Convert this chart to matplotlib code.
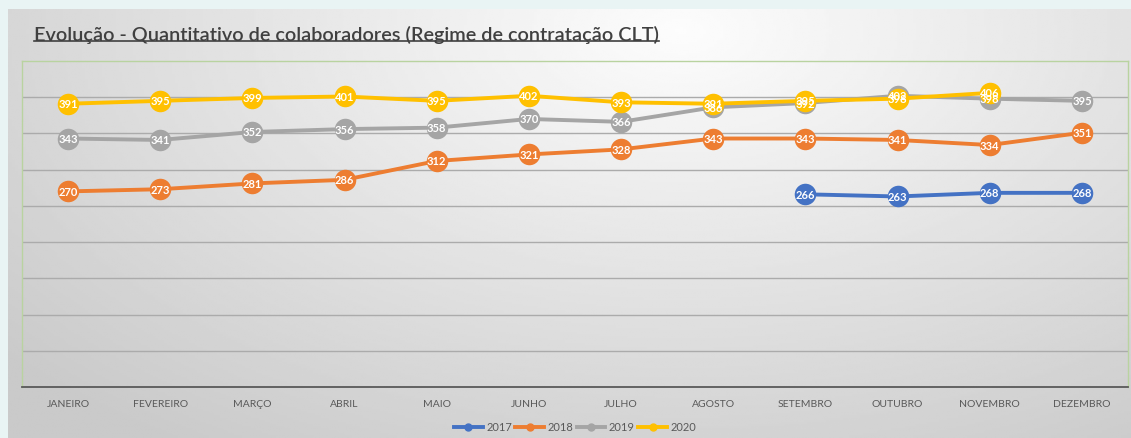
import numpy as np
import matplotlib
matplotlib.use('Agg')
from matplotlib import pyplot as plt
from matplotlib.lines import Line2D

# data
meses = ['JANEIRO', 'FEVEREIRO', 'MARÇO', 'ABRIL', 'MAIO', 'JUNHO',
         'JULHO', 'AGOSTO', 'SETEMBRO', 'OUTUBRO', 'NOVEMBRO', 'DEZEMBRO']
nan = np.nan
v2017 = [nan, nan, nan, nan, nan, nan, nan, nan, 266, 263, 268, 268]
v2018 = [270, 273, 281, 286, 312, 321, 328, 343, 343, 341, 334, 351]
v2019 = [343, 341, 352, 356, 358, 370, 366, 386, 392, 402, 398, 395]
v2020 = [391, 395, 399, 401, 395, 402, 393, 391, 395, 398, 406, nan]

series = [('2017', v2017, '#4472C4'),
          ('2018', v2018, '#ED7D31'),
          ('2019', v2019, '#A5A5A5'),
          ('2020', v2020, '#FFC000')]

plt.rcParams['font.family'] = ['Lato', 'DejaVu Sans']

W, H = 1131, 439
fig = plt.figure(figsize=(W / 100, H / 100), dpi=100)
fig.patch.set_facecolor('#e9f4f4')

# gray gradient panel behind the chart
bg = fig.add_axes([8 / W, 0, 1 - 8 / W, (H - 10) / H])
bg.set_axis_off()
yy, xx = np.mgrid[0:1:200j, 0:1:400j]
d = np.sqrt(((xx - 0.6) * 1.25) ** 2 + ((yy - 0.05) * 0.85) ** 2)
shade = np.clip(0.99 - 0.2 * d, 0.79, 1.0)
bg.imshow(shade, cmap='gray', vmin=0, vmax=1, aspect='auto',
          extent=[0, 1, 0, 1], origin='upper')
bg.set_xlim(0, 1)
bg.set_ylim(0, 1)

ax = fig.add_axes([22 / W, (H - 388) / H, (1128 - 22) / W, (388 - 62) / H])
ax.patch.set_alpha(0)
x = np.arange(len(meses))

for i, (nome, vals, cor) in enumerate(series):
    vals = np.array(vals, dtype=float)
    ax.plot(x, vals, color=cor, lw=2.8, marker='o', ms=15.5,
            markeredgewidth=0, zorder=3 + i)
    for xi, v in zip(x, vals):
        if np.isnan(v):
            continue
        ax.text(xi, v, f'{int(v)}', ha='center', va='center', color='white',
                fontsize=8, fontweight='bold', zorder=20)

ax.set_xlim(-0.5, len(meses) - 0.5)
ax.set_ylim(0, 450)
ax.set_yticks(np.arange(50, 401, 50))
ax.yaxis.grid(True, color='#ababab', lw=1.0)
ax.set_axisbelow(True)
ax.tick_params(axis='y', left=False, labelleft=False)
ax.set_xticks(x)
ax.set_xticklabels(meses, fontsize=7.5, color='#595959')
ax.tick_params(axis='x', length=0, pad=9)
for s in ['top', 'right', 'left']:
    ax.spines[s].set_color('#b9d3a0')
    ax.spines[s].set_linewidth(1.0)
ax.spines['bottom'].set_color('#595959')
ax.spines['bottom'].set_linewidth(1.3)

handles = [Line2D([0], [0], color=c, lw=2.8, marker='o', ms=5) for _, _, c in series]
fig.legend(handles, [n for n, _, _ in series], loc='center',
           bbox_to_anchor=(575 / W, (H - 428) / H), ncol=4, frameon=False,
           fontsize=8, handlelength=2.6, handletextpad=0.3, columnspacing=0.3,
           labelcolor='#595959')

# underlined title
t = fig.text(34 / W, (H - 35) / H, 'Evolução - Quantitativo de colaboradores (Regime de contratação CLT)',
             fontsize=14.3, color='#404040', ha='left', va='center', fontweight='semibold')
fig.canvas.draw()
bb = t.get_window_extent().transformed(fig.transFigure.inverted())
fig.add_artist(Line2D([bb.x0, bb.x1], [bb.y0 + 0.004, bb.y0 + 0.004],
                      color='#404040', lw=1.2, transform=fig.transFigure))

fig.savefig('out.png', dpi=100)
